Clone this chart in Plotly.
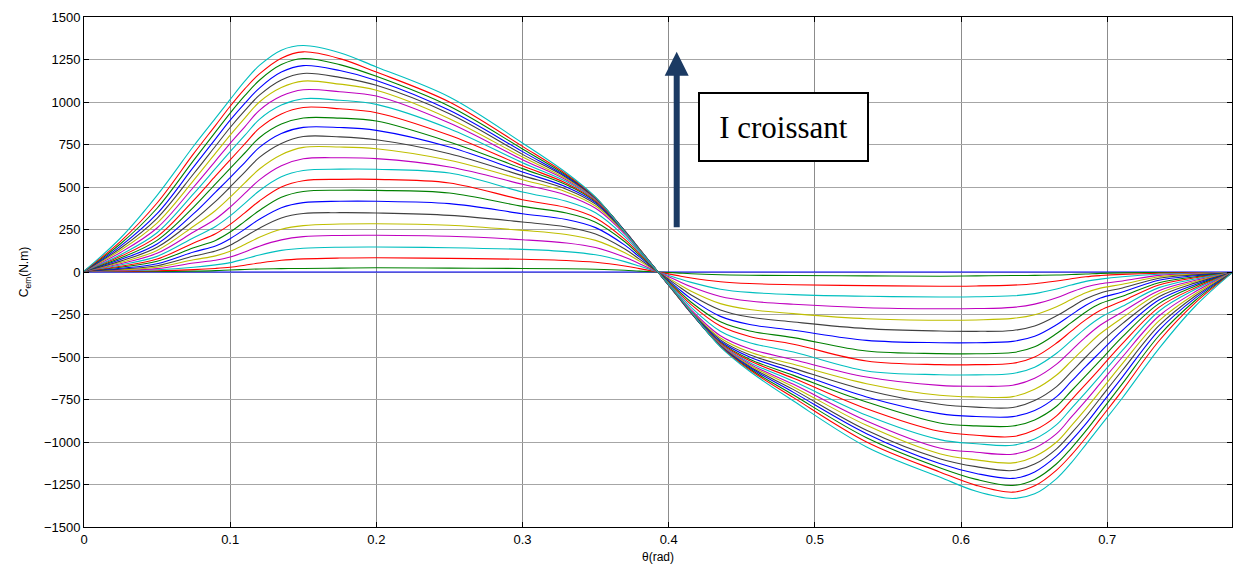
import plotly.graph_objects as go

# theta grid (rad)
THETA = [0, 0.025, 0.05, 0.075, 0.09, 0.1, 0.11, 0.12, 0.135, 0.15, 0.175, 0.2, 0.25, 0.3, 0.33, 0.35, 0.37, 0.38,
         0.3927, 0.4054, 0.4154, 0.4354, 0.4554, 0.4854, 0.5354, 0.5854, 0.6104, 0.6354, 0.6504, 0.6654, 0.6754,
         0.6854, 0.6954, 0.7104, 0.7354, 0.7604, 0.7854]

# electromagnetic torque (N.m), one list per current level (increasing current)
cem_i00 = [0] * 37
cem_i01 = [3, 3, 3, 5, 8, 12, 15, 18, 20, 21, 23, 25, 23, 21, 19, 16, 10, 5, 0,
           -5, -10, -16, -19, -21, -23, -25, -23, -21, -20, -18, -15, -12, -8, -5, -3, -3, -3]
cem_i02 = [5, 5, 7, 14, 21, 28, 40, 53, 69, 77, 82, 84, 80, 75, 68, 57, 35, 20, 0,
           -20, -35, -57, -68, -75, -80, -84, -82, -77, -69, -53, -40, -28, -21, -14, -7, -5, -5]
cem_i03 = [5, 7, 13, 28, 42, 55, 77, 100, 127, 140, 146, 147, 143, 133, 120, 101, 61, 35, 0,
           -35, -61, -101, -120, -133, -143, -147, -146, -140, -127, -100, -77, -55, -42, -28, -13, -7, -5]
cem_i04 = [5, 10, 20, 53, 69, 88, 118, 152, 189, 208, 215, 216, 210, 190, 171, 144, 87, 49, 0,
           -49, -87, -144, -171, -190, -210, -216, -215, -208, -189, -152, -118, -88, -69, -53, -20, -10, -5]
cem_i05 = [5, 13, 28, 72, 95, 122, 162, 204, 251, 273, 282, 284, 275, 245, 221, 186, 113, 64, 0,
           -64, -113, -186, -221, -245, -275, -284, -282, -273, -251, -204, -162, -122, -95, -72, -28, -13, -5]
cem_i06 = [5, 17, 37, 94, 123, 158, 207, 258, 318, 344, 349, 347, 333, 294, 265, 223, 135, 76, 0,
           -76, -135, -223, -265, -294, -333, -347, -349, -344, -318, -258, -207, -158, -123, -94, -37, -17, -5]
cem_i07 = [5, 22, 49, 118, 153, 196, 252, 310, 378, 408, 416, 416, 402, 343, 309, 261, 158, 89, 0,
           -89, -158, -261, -309, -343, -402, -416, -416, -408, -378, -310, -252, -196, -153, -118, -49, -22, -5]
cem_i08 = [5, 28, 63, 143, 186, 235, 298, 362, 440, 474, 481, 480, 465, 386, 347, 293, 178, 100, 0,
           -100, -178, -293, -347, -386, -465, -480, -481, -474, -440, -362, -298, -235, -186, -143, -63, -28, -5]
cem_i09 = [5, 34, 76, 171, 225, 280, 348, 418, 500, 537, 545, 545, 524, 425, 379, 318, 192, 108, 0,
           -108, -192, -318, -379, -425, -524, -545, -545, -537, -500, -418, -348, -280, -225, -171, -76, -34, -5]
cem_i10 = [5, 41, 92, 202, 268, 330, 404, 478, 560, 597, 605, 604, 582, 471, 416, 348, 208, 117, 0,
           -117, -208, -348, -416, -471, -582, -604, -605, -597, -560, -478, -404, -330, -268, -202, -92, -41, -5]
cem_i11 = [5, 49, 110, 235, 312, 382, 462, 542, 625, 666, 672, 667, 618, 516, 452, 375, 223, 125, 0,
           -125, -223, -375, -452, -516, -618, -667, -672, -666, -625, -542, -462, -382, -312, -235, -110, -49, -5]
cem_i12 = [5, 56, 127, 269, 362, 440, 524, 606, 690, 733, 735, 725, 657, 543, 471, 388, 230, 129, 0,
           -129, -230, -388, -471, -543, -657, -725, -735, -733, -690, -606, -524, -440, -362, -269, -127, -56, -5]
cem_i13 = [5, 64, 145, 304, 415, 500, 588, 674, 756, 797, 795, 778, 696, 567, 487, 399, 234, 132, 0,
           -132, -234, -399, -487, -567, -696, -778, -795, -797, -756, -674, -588, -500, -415, -304, -145, -64, -5]
cem_i14 = [5, 73, 165, 343, 470, 555, 644, 733, 815, 851, 850, 833, 735, 588, 500, 407, 237, 133, 0,
           -133, -237, -407, -500, -588, -735, -833, -850, -851, -815, -733, -644, -555, -470, -343, -165, -73, -5]
cem_i15 = [5, 82, 186, 382, 519, 610, 700, 790, 870, 906, 905, 888, 765, 608, 513, 414, 240, 134, 0,
           -134, -240, -414, -513, -608, -765, -888, -905, -906, -870, -790, -700, -610, -519, -382, -186, -82, -5]
cem_i16 = [5, 92, 208, 422, 565, 660, 753, 846, 930, 968, 960, 937, 804, 625, 522, 419, 241, 134, 0,
           -134, -241, -419, -522, -625, -804, -937, -960, -968, -930, -846, -753, -660, -565, -422, -208, -92, -5]
cem_i17 = [5, 102, 231, 461, 609, 708, 803, 898, 982, 1019, 1010, 986, 843, 643, 532, 424, 242, 134, 0,
           -134, -242, -424, -532, -643, -843, -986, -1010, -1019, -982, -898, -803, -708, -609, -461, -231, -102, -5]
cem_i18 = [5, 115, 259, 500, 654, 757, 854, 951, 1035, 1072, 1060, 1035, 876, 661, 541, 428, 242, 135, 0,
           -135, -242, -428, -541, -661, -876, -1035, -1060, -1072, -1035, -951, -854, -757, -654, -500, -259, -115, -5]
cem_i19 = [5, 128, 288, 539, 699, 805, 905, 1000, 1085, 1123, 1105, 1069, 902, 676, 548, 430, 241, 134, 0,
           -134, -241, -430, -548, -676, -902, -1069, -1105, -1123, -1085, -1000, -905, -805, -699, -539, -288, -128, -5]
cem_i20 = [5, 140, 316, 578, 741, 850, 949, 1040, 1130, 1168, 1145, 1098, 931, 692, 556, 433, 241, 133, 0,
           -133, -241, -433, -556, -692, -931, -1098, -1145, -1168, -1130, -1040, -949, -850, -741, -578, -316, -140, -5]
cem_i21 = [5, 152, 343, 618, 783, 893, 992, 1082, 1176, 1214, 1185, 1127, 951, 708, 562, 435, 239, 132, 0,
           -132, -239, -435, -562, -708, -951, -1127, -1185, -1214, -1176, -1082, -992, -893, -783, -618, -343, -152, -5]
cem_i22 = [5, 166, 375, 657, 824, 935, 1037, 1128, 1220, 1256, 1220, 1151, 975, 724, 569, 437, 238, 131, 0,
           -131, -238, -437, -569, -724, -975, -1151, -1220, -1256, -1220, -1128, -1037, -935, -824, -657, -375, -166, -5]
cem_i23 = [5, 180, 406, 696, 863, 975, 1077, 1165, 1258, 1295, 1255, 1176, 1000, 739, 575, 437, 236, 130, 0,
           -130, -236, -437, -575, -739, -1000, -1176, -1255, -1295, -1258, -1165, -1077, -975, -863, -696, -406, -180, -5]
cem_i24 = [5, 200, 451, 741, 905, 1015, 1123, 1215, 1305, 1332, 1290, 1206, 1029, 759, 584, 440, 235, 129, 0,
           -129, -235, -440, -584, -759, -1029, -1206, -1290, -1332, -1305, -1215, -1123, -1015, -905, -741, -451, -200, -5]

CURVES = [cem_i00, cem_i01, cem_i02, cem_i03, cem_i04, cem_i05, cem_i06, cem_i07, cem_i08, cem_i09,
          cem_i10, cem_i11, cem_i12, cem_i13, cem_i14, cem_i15, cem_i16, cem_i17, cem_i18, cem_i19,
          cem_i20, cem_i21, cem_i22, cem_i23, cem_i24]

X_TICKS = [0, 0.1, 0.2, 0.3, 0.4, 0.5, 0.6, 0.7]
X_TICKTEXT = ["0", "0.1", "0.2", "0.3", "0.4", "0.5", "0.6", "0.7"]
Y_TICKS = [-1500, -1250, -1000, -750, -500, -250, 0, 250, 500, 750, 1000, 1250, 1500]

# MATLAB classic colour order: b g r c m y k
COLORS = ["#0000FF", "#008000", "#FF0000", "#00BFBF", "#BF00BF", "#BFBF00", "#404040"]

fig = go.Figure()
for i, c in enumerate(CURVES):
    fig.add_trace(go.Scatter(
        x=THETA, y=c, mode="lines",
        line=dict(color=COLORS[i % 7], width=1.1, shape="spline", smoothing=1.0),
        hoverinfo="skip", showlegend=False))

FONT = "Liberation Sans, Arial, sans-serif"

fig.update_layout(
    width=1240, height=564,
    margin=dict(l=84, r=8, t=17, b=37),
    paper_bgcolor="white", plot_bgcolor="white",
    showlegend=False,
    font=dict(family=FONT, size=13, color="black"),
    xaxis=dict(
        range=[0, 0.7854], tickvals=X_TICKS, ticktext=X_TICKTEXT,
        showgrid=True, gridcolor="#8c8c8c", gridwidth=1,
        zeroline=False, showline=True, linecolor="black", linewidth=1,
        mirror="ticks", ticks="inside", ticklen=5, tickcolor="black",
        tickfont=dict(family=FONT, size=13), automargin=False,
        title=dict(text="θ(rad)", font=dict(family=FONT, size=12), standoff=8),
    ),
    yaxis=dict(
        range=[-1500, 1500], tickvals=Y_TICKS,
        showgrid=True, gridcolor="#a6a6a6", gridwidth=1,
        zeroline=False, showline=True, linecolor="black", linewidth=1,
        mirror="ticks", ticks="inside", ticklen=5, tickcolor="black",
        tickfont=dict(family=FONT, size=13), automargin=False,
        title=dict(text="C<sub>em</sub>(N.m)", font=dict(family=FONT, size=12), standoff=12),
    ),
)

# arrow "I croissant"
fig.add_annotation(
    x=0.4055, y=1295, ax=0.4055, ay=255, xref="x", yref="y", axref="x", ayref="y",
    text="", showarrow=True, arrowhead=2, arrowsize=0.8, arrowwidth=6, arrowcolor="#1b3a63")

fig.add_annotation(
    x=0.4784, y=853, xref="x", yref="y", text="I croissant", showarrow=False,
    font=dict(family="Liberation Serif, Times New Roman, serif", size=31, color="black"),
    bordercolor="black", borderwidth=2, borderpad=1, bgcolor="white", width=165, height=64)

fig.write_html("out.html")
